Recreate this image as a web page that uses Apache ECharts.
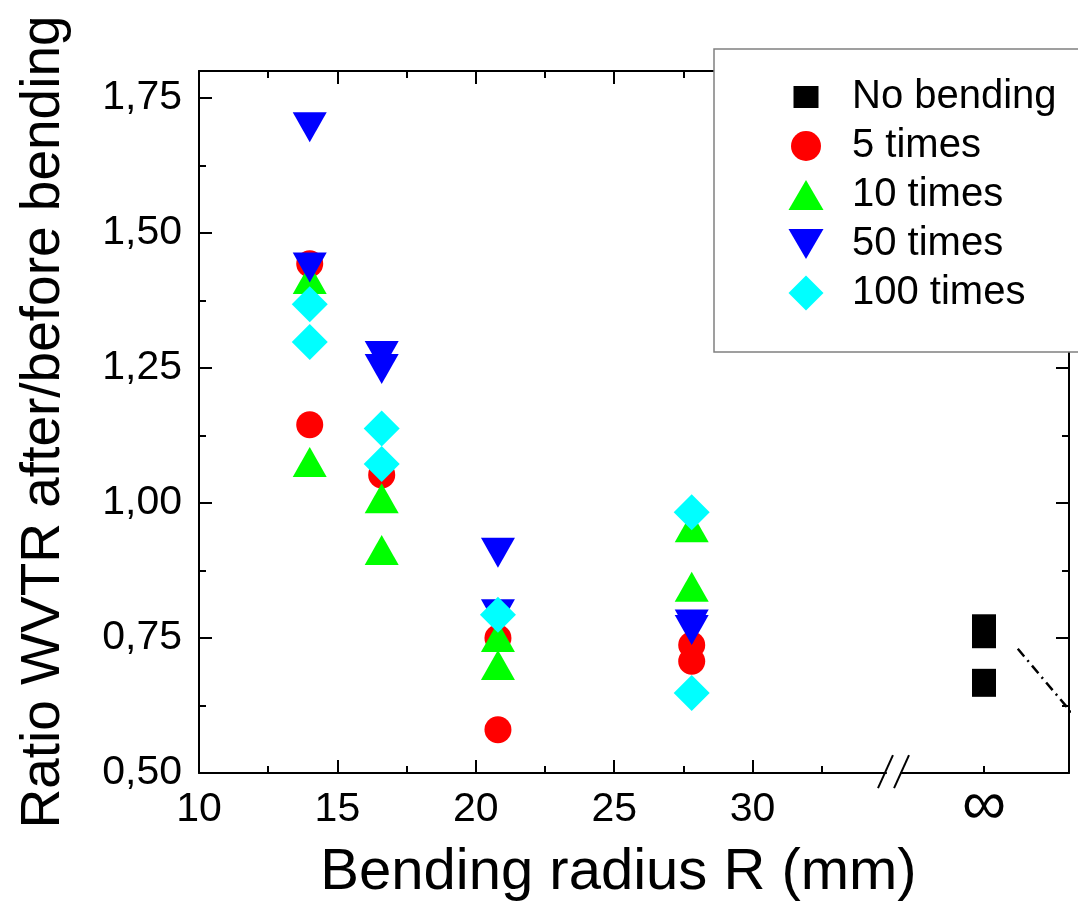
<!DOCTYPE html>
<html>
<head>
<meta charset="utf-8">
<script src="https://cdn.jsdelivr.net/npm/echarts@6/dist/echarts.min.js"></script>
<style>
html,body{margin:0;padding:0;background:#fff;}
#chart{width:1078px;height:901px;}
</style>
</head>
<body>
<div id="chart"></div>
<script>
// ---------------- data ----------------
const seriesNames = ['No bending', '5 times', '10 times', '50 times', '100 times'];
const INF_X = 38.36; // position used for "∞" (no bending)
const xMajorTicks = [10, 15, 20, 25, 30];
const xMinorTicks = [12.5, 17.5, 22.5, 27.5, 32.5];
const yMajorTicks = [0.5, 0.75, 1.0, 1.25, 1.5, 1.75];
const yMinorTicks = [0.625, 0.875, 1.125, 1.375, 1.625];

const noBending = [[INF_X, 0.768], [INF_X, 0.757], [INF_X, 0.667]];
const times5 = [[14, 1.443], [14, 1.145], [16.6, 1.052], [20.8, 0.750], [20.8, 0.580], [27.8, 0.737], [27.8, 0.707]];
const times10 = [[14, 1.415], [14, 1.076], [16.6, 1.009], [16.6, 0.913], [20.8, 0.752], [20.8, 0.700], [27.8, 0.955], [27.8, 0.845]];
const times50 = [[14, 1.696], [14, 1.436], [16.6, 1.272], [16.6, 1.248], [20.8, 0.908], [20.8, 0.794], [27.8, 0.775], [27.8, 0.765]];
const times100 = [[14, 1.368], [14, 1.298], [16.6, 1.138], [16.6, 1.072], [20.8, 0.793], [27.8, 0.983], [27.8, 0.648]];

// decorations (in data units): axis-break slashes and the dash-dot guide line
const breakGap = [[34.85, 0.5], [35.33, 0.5]];
const breakSlash1 = [[34.53, 0.472], [35.07, 0.533]];
const breakSlash2 = [[35.11, 0.472], [35.65, 0.533]];
const guideLine = [[39.58, 0.730], [42.54, 0.550]];

const X_MIN = 10, X_MAX = 41.43, Y_MIN = 0.5, Y_MAX = 1.8;
// --------------------------------------

const FONT = 'Liberation Sans, Arial, Helvetica, sans-serif';
const downTri = 'path://M0,0L34,0L17,30Z';
// legend icons drawn inside a common 36x36 box (the two M anchors fix the box)
const BOX = 'M0,0M36,36';
const legendIcons = [
  'path://' + BOX + 'M5.5,7H30.5V29H5.5Z',
  'path://' + BOX + 'M3,18A15,15 0 1,0 33,18A15,15 0 1,0 3,18Z',
  'path://' + BOX + 'M0.5,33L35.5,33L18,3Z',
  'path://' + BOX + 'M0.5,3L35.5,3L18,33Z',
  'path://' + BOX + 'M18,0.5L35.5,18L18,35.5L0.5,18Z'
];

function xAxisCfg(pos, ticks, len, showLine) {
  return {
    type: 'value', position: pos, min: X_MIN, max: X_MAX,
    axisLine: {show: showLine, onZero: false, lineStyle: {color: '#000', width: 2}},
    axisTick: {show: true, inside: true, length: len, customValues: ticks, lineStyle: {color: '#000', width: 2}},
    axisLabel: {show: false},
    splitLine: {show: false}
  };
}
function yAxisCfg(pos, ticks, len, showLine) {
  return {
    type: 'value', position: pos, min: Y_MIN, max: Y_MAX,
    axisLine: {show: showLine, onZero: false, lineStyle: {color: '#000', width: 2}},
    axisTick: {show: true, inside: true, length: len, customValues: ticks, lineStyle: {color: '#000', width: 2}},
    axisLabel: {show: false},
    splitLine: {show: false}
  };
}

const xMain = xAxisCfg('bottom', xMajorTicks, 13, true);
xMain.axisLabel = {
  show: true, customValues: xMajorTicks.concat([INF_X]), margin: 16,
  fontSize: 41, color: '#000', fontFamily: FONT,
  formatter: v => Math.abs(v - INF_X) < 1e-6 ? '{inf|∞}' : String(v),
  rich: {inf: {fontSize: 62, fontFamily: FONT, color: '#000', lineHeight: 41, padding: [-6, 0, 0, 0]}}
};
xMain.name = 'Bending radius R (mm)';
xMain.nameLocation = 'middle';
xMain.nameGap = 71;
xMain.nameMoveOverlap = false;
xMain.nameTextStyle = {fontSize: 58, color: '#000', fontFamily: FONT, padding: [0, 31, 0, 0]};

const yMain = yAxisCfg('left', yMajorTicks, 13, true);
yMain.axisLabel = {
  show: true, customValues: yMajorTicks, margin: 17,
  fontSize: 41, color: '#000', fontFamily: FONT,
  formatter: v => v.toFixed(2).replace('.', ',')
};
yMain.name = 'Ratio WVTR after/before bending';
yMain.nameLocation = 'middle';
yMain.nameRotate = 90;
yMain.nameGap = 128;
yMain.nameMoveOverlap = false;
yMain.nameTextStyle = {fontSize: 55, color: '#000', fontFamily: FONT};

function decoLine(data, color, width, type) {
  return {
    type: 'line', data: data, symbol: 'none', silent: true, clip: false,
    xAxisIndex: 0, yAxisIndex: 0, z: 3, animation: false,
    lineStyle: {color: color, width: width, type: type || 'solid'},
    emphasis: {disabled: true}, tooltip: {show: false}
  };
}
function scat(name, data, symbol, size, color) {
  return {
    name: name, type: 'scatter', data: data, symbol: symbol, symbolSize: size,
    itemStyle: {color: color, opacity: 1}, xAxisIndex: 0, yAxisIndex: 0,
    emphasis: {disabled: true}
  };
}

const chart = echarts.init(document.getElementById('chart'), null, {renderer: 'canvas'});
chart.setOption({
  animation: false,
  backgroundColor: '#fff',
  textStyle: {fontFamily: FONT},
  grid: {left: 199, right: 9, top: 71, bottom: 128, containLabel: false, outerBoundsMode: 'none'},
  graphic: [{
    type: 'rect', z: 3, silent: true,
    shape: {x: 714, y: 49, width: 420, height: 303},
    style: {fill: '#fff', stroke: '#808080', lineWidth: 1.5}
  }],
  legend: {
    orient: 'vertical', left: 788, top: 77, z: 5,
    data: seriesNames.map((n, i) => ({name: n, icon: legendIcons[i]})),
    padding: 0,
    itemGap: 9, itemWidth: 82, itemHeight: 36,
    symbolKeepAspect: true,
    textStyle: {fontSize: 40, color: '#000', fontFamily: FONT},
    selectedMode: false
  },
  xAxis: [
    xMain,
    xAxisCfg('bottom', xMinorTicks.concat([INF_X]), 7, false),
    xAxisCfg('top', xMajorTicks, 13, true),
    xAxisCfg('top', xMinorTicks, 7, false)
  ],
  yAxis: [
    yMain,
    yAxisCfg('left', yMinorTicks, 7, false),
    yAxisCfg('right', yMajorTicks, 13, true),
    yAxisCfg('right', yMinorTicks, 7, false)
  ],
  series: [
    scat('No bending', noBending, 'rect', [24, 28], '#000000'),
    scat('5 times', times5, 'circle', 27, '#FF0000'),
    scat('10 times', times10, 'triangle', [34, 30], '#00FF00'),
    scat('50 times', times50, downTri, [34, 30], '#0000FF'),
    scat('100 times', times100, 'diamond', [36, 36], '#00FFFF'),
    decoLine(breakGap, '#fff', 5),
    decoLine(breakSlash1, '#000', 2),
    decoLine(breakSlash2, '#000', 2),
    decoLine(guideLine, '#000', 2.5, [10, 5, 2, 5])
  ]
});
</script>
</body>
</html>
